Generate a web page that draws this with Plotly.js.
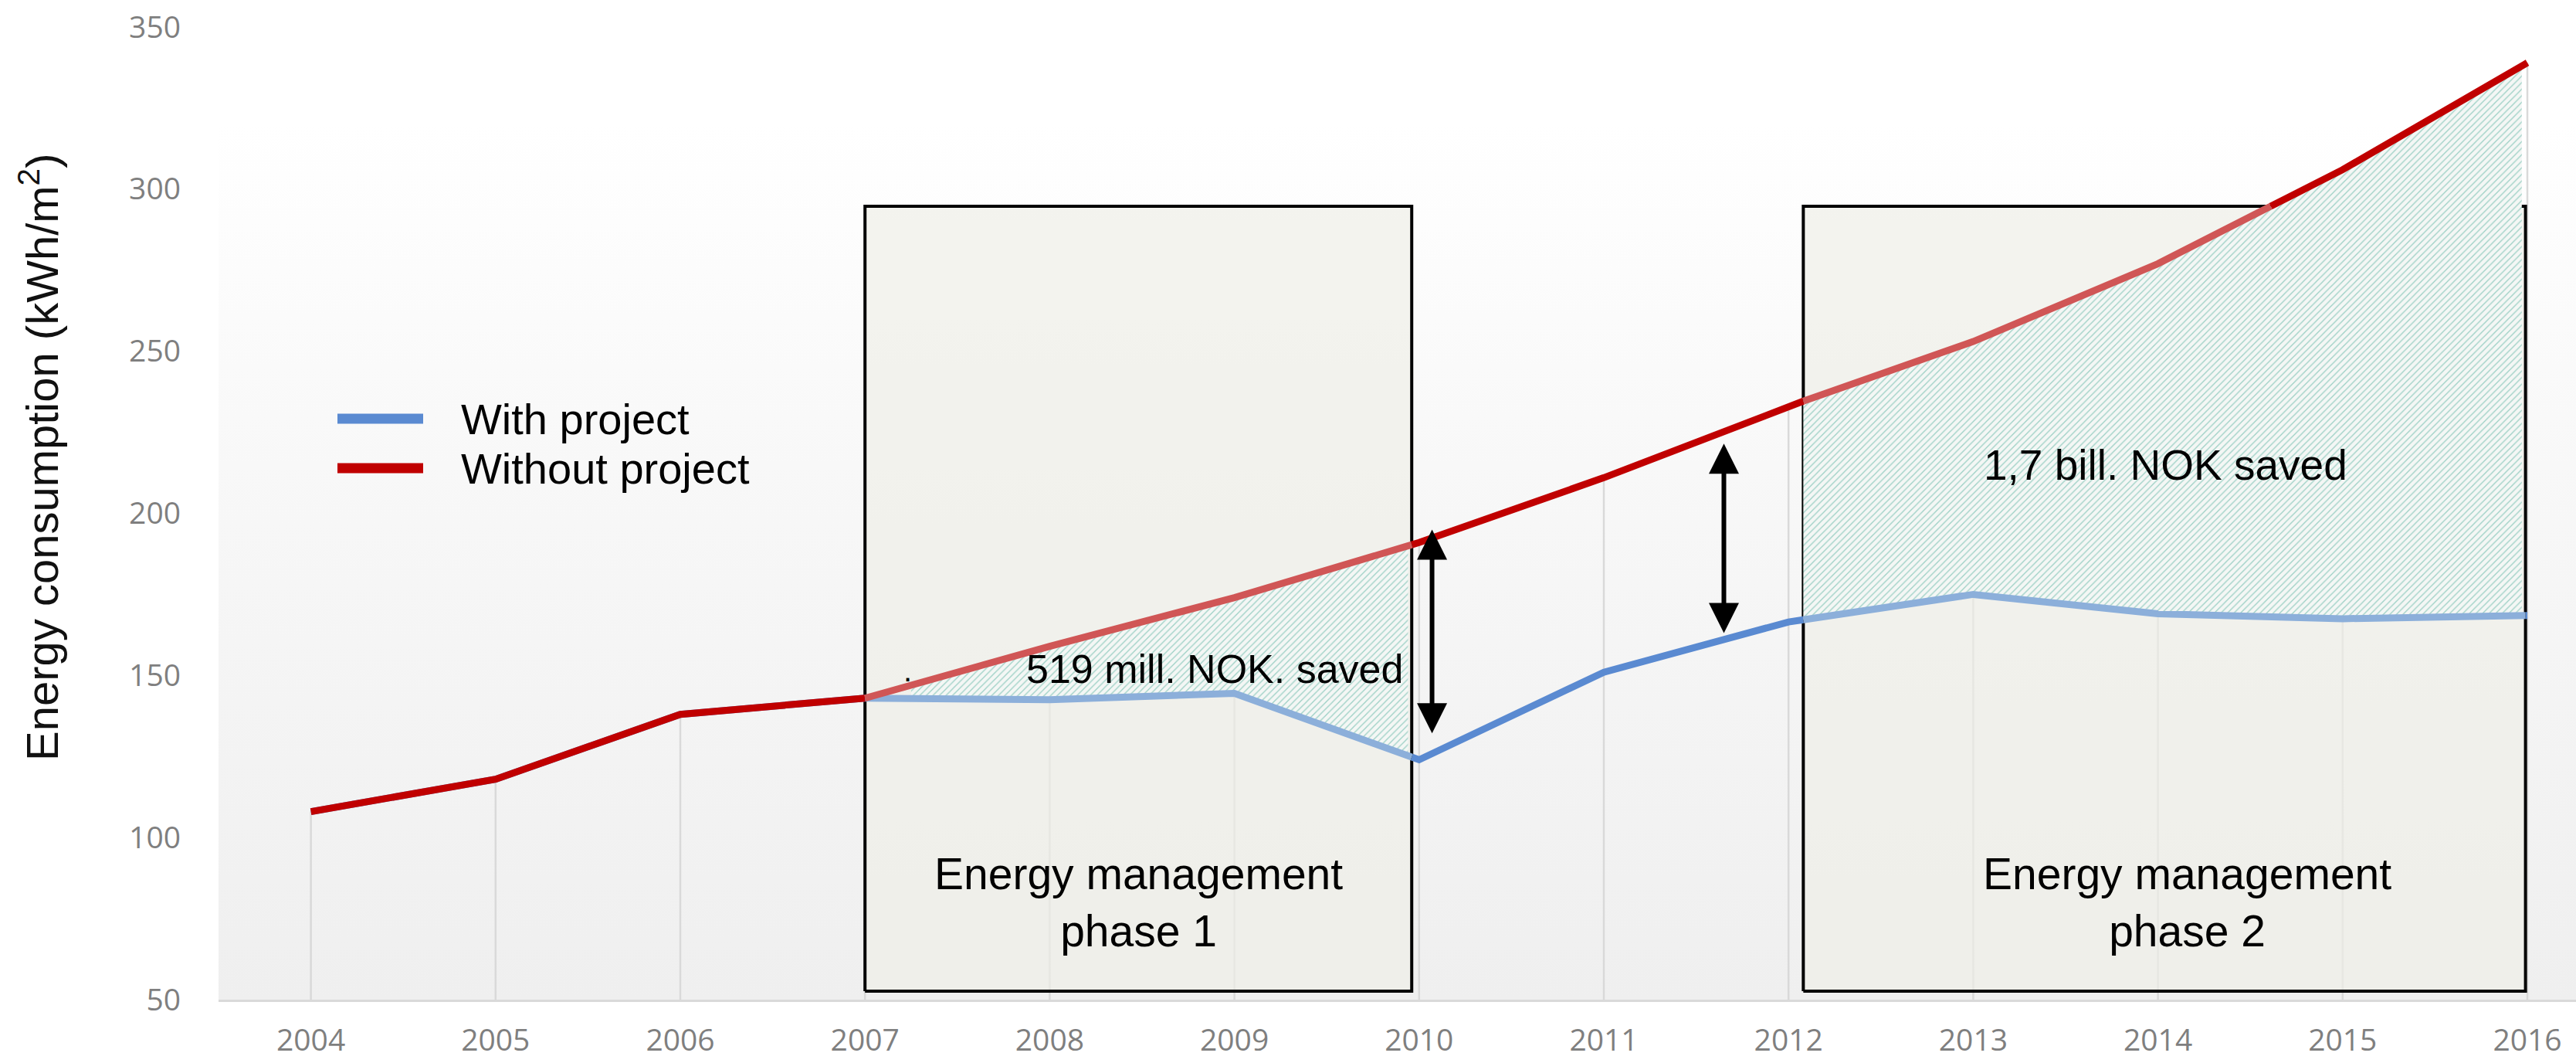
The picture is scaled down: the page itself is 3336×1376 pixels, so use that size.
<!DOCTYPE html>
<html>
<head>
<meta charset="utf-8">
<script src="https://cdn.plot.ly/plotly-3.0.1.min.js"></script>
<style>html,body{margin:0;padding:0;background:#fff}#chart{width:3336px;height:1376px}</style>
</head>
<body>
<div id="chart"></div>
<script>
// ---- data ----
const years = [2004, 2005, 2006, 2007, 2008, 2009, 2010, 2011, 2012, 2013, 2014, 2015, 2016];
const withProject    = [108, 118, 138, 143, 142.5, 144.5, 124, 151, 166.5, 175, 169, 167.5, 168.5];
const withoutProject = [108, 118, 138, 143, 159, 174, 191, 211, 233, 253, 277, 306, 339];
const seriesNames = ['With project', 'Without project'];
const yTicks = [50, 100, 150, 200, 250, 300, 350];
const yTitle = 'Energy consumption (kWh/m<sup>2</sup>)';

const phaseStart  = [2007, 2012.08];
const phaseEnd    = [2009.96, 2015.99];
const phaseBottom = [52.6, 52.6];
const phaseTop    = [294.7, 294.7];
const phaseLabels = ['Energy management<br>phase 1', 'Energy management<br>phase 2'];
const phaseLabelX = [2008.48, 2014.16];
const phaseLabelY = [80, 80];

const savingStart  = [2007.25, 2012.08];
const savingEnd    = [2009.94, 2015.97];
const savingLabels = ['519 mill. NOK. saved', '1,7 bill. NOK saved'];
const savingLabelX = [2009.92, 2014.04];
const savingLabelY = [152, 215];
const savingAnchor = ['right', 'center'];

const gapArrowX      = [2010.07, 2011.65];
const gapArrowTop    = [195, 221.5];
const gapArrowBottom = [131.8, 162.7];

// ---- styles ----
const blueDark = '#5a8ad1', blueFade = '#8cafda';
const redDark = '#c00000', redFade = '#d05656';
const LINE_W = 9;
const W = 3336, H = 1376;
const M = {l: 283, r: 0, t: 35, b: 82};
const PW = W - M.l - M.r, PH = H - M.t - M.b;
const xRange = [2003.5, 2003.5 + PW / 239.2];
const yRange = [50, 350];
const px2x = px => (px - M.l) / PW;
const py2y = py => (H - M.b - py) / PH;

// ---- helpers ----
function interp(xs, ys, x) {
  for (let i = 0; i < xs.length - 1; i++) {
    if (x >= xs[i] && x <= xs[i + 1]) {
      const t = (x - xs[i]) / (xs[i + 1] - xs[i]);
      return ys[i] + t * (ys[i + 1] - ys[i]);
    }
  }
  return x < xs[0] ? ys[0] : ys[ys.length - 1];
}
function inBox(x, y) {
  for (let k = 0; k < phaseStart.length; k++) {
    if (x >= phaseStart[k] && x <= phaseEnd[k] && y >= phaseBottom[k] && y <= phaseTop[k]) return true;
  }
  return false;
}
function splitByBoxes(xs, ys) {
  const inside = {x: [], y: [], lx: null, ly: null};
  const outside = {x: [], y: [], lx: null, ly: null};
  for (let i = 0; i < xs.length - 1; i++) {
    const x0 = xs[i], y0 = ys[i], x1 = xs[i + 1], y1 = ys[i + 1];
    const ts = [0, 1];
    for (let k = 0; k < phaseStart.length; k++) {
      [phaseStart[k], phaseEnd[k]].forEach(ex => {
        if (x1 !== x0) { const t = (ex - x0) / (x1 - x0); if (t > 0 && t < 1) ts.push(t); }
      });
      [phaseBottom[k], phaseTop[k]].forEach(ey => {
        if (y1 !== y0) { const t = (ey - y0) / (y1 - y0); if (t > 0 && t < 1) ts.push(t); }
      });
    }
    ts.sort((a, b) => a - b);
    for (let j = 0; j < ts.length - 1; j++) {
      const ta = ts[j], tb = ts[j + 1];
      if (tb - ta < 1e-9) continue;
      const ax = x0 + ta * (x1 - x0), ay = y0 + ta * (y1 - y0);
      const bx = x0 + tb * (x1 - x0), by = y0 + tb * (y1 - y0);
      const tm = (ta + tb) / 2;
      const tgt = inBox(x0 + tm * (x1 - x0), y0 + tm * (y1 - y0)) ? inside : outside;
      if (!(tgt.lx !== null && Math.abs(tgt.lx - ax) < 1e-9 && Math.abs(tgt.ly - ay) < 1e-9)) {
        if (tgt.x.length) { tgt.x.push(null); tgt.y.push(null); }
        tgt.x.push(ax); tgt.y.push(ay);
      }
      tgt.x.push(bx); tgt.y.push(by);
      tgt.lx = bx; tgt.ly = by;
    }
  }
  return {inside, outside};
}

const traces = [];

// drop lines from the highest series value to the axis
const dropX = [], dropY = [];
years.forEach((yr, i) => {
  dropX.push(yr, yr, null);
  dropY.push(Math.max(withProject[i], withoutProject[i]), yRange[0], null);
});
traces.push({x: dropX, y: dropY, mode: 'lines', line: {color: '#d9d9d9', width: 2.5}, hoverinfo: 'skip'});

// phase boxes
for (let k = 0; k < phaseStart.length; k++) {
  traces.push({
    x: [phaseStart[k], phaseEnd[k], phaseEnd[k], phaseStart[k], phaseStart[k]],
    y: [phaseBottom[k], phaseBottom[k], phaseTop[k], phaseTop[k], phaseBottom[k]],
    mode: 'lines', fill: 'toself', fillcolor: 'rgba(238,238,230,0.65)',
    line: {color: '#000000', width: 4}, hoverinfo: 'skip'
  });
}

// hatched savings areas
for (let k = 0; k < savingStart.length; k++) {
  const hx = [savingStart[k]];
  years.forEach(yr => { if (yr > savingStart[k] && yr < savingEnd[k]) hx.push(yr); });
  hx.push(savingEnd[k]);
  traces.push({x: hx, y: hx.map(x => interp(years, withProject, x)), mode: 'lines',
    line: {width: 0, color: 'rgba(0,0,0,0)'}, hoverinfo: 'skip'});
  traces.push({x: hx, y: hx.map(x => interp(years, withoutProject, x)), mode: 'lines',
    fill: 'tonexty', fillcolor: '#f2f5f3',
    fillpattern: {shape: '/', size: 6, solidity: 0.22, fgcolor: '#9dd0c5', bgcolor: '#f4f7f5'},
    line: {width: 0, color: 'rgba(0,0,0,0)'}, hoverinfo: 'skip'});
}

// series lines (faded where they pass behind the phase boxes)
const bSplit = splitByBoxes(years, withProject);
const rSplit = splitByBoxes(years, withoutProject);
traces.push({x: bSplit.outside.x, y: bSplit.outside.y, mode: 'lines', name: seriesNames[0],
  line: {color: blueDark, width: LINE_W}, connectgaps: false});
traces.push({x: bSplit.inside.x, y: bSplit.inside.y, mode: 'lines', name: seriesNames[0],
  line: {color: blueFade, width: LINE_W}, connectgaps: false});
traces.push({x: rSplit.outside.x, y: rSplit.outside.y, mode: 'lines', name: seriesNames[1],
  line: {color: redDark, width: LINE_W}, connectgaps: false});
traces.push({x: rSplit.inside.x, y: rSplit.inside.y, mode: 'lines', name: seriesNames[1],
  line: {color: redFade, width: LINE_W}, connectgaps: false});

// ---- annotations ----
const ARIAL = 'Liberation Sans, Arial, sans-serif';
const annotations = [];
annotations.push({
  xref: 'paper', yref: 'paper', x: px2x(50), y: py2y(592), text: yTitle, textangle: -90,
  showarrow: false, xanchor: 'center', yanchor: 'middle',
  font: {family: ARIAL, size: 58, color: '#111111'}
});
for (let k = 0; k < phaseLabels.length; k++) {
  annotations.push({xref: 'x', yref: 'y', x: phaseLabelX[k], y: phaseLabelY[k], text: phaseLabels[k],
    showarrow: false, align: 'center', xanchor: 'center', yanchor: 'middle',
    font: {family: ARIAL, size: 57, color: '#000000'}});
}
for (let k = 0; k < savingLabels.length; k++) {
  annotations.push({xref: 'x', yref: 'y', x: savingLabelX[k], y: savingLabelY[k], text: savingLabels[k],
    showarrow: false, xanchor: savingAnchor[k], yanchor: 'middle',
    font: {family: ARIAL, size: k === 0 ? 52 : 55, color: '#000000'}});
}
for (let k = 0; k < gapArrowX.length; k++) {
  annotations.push({xref: 'x', yref: 'y', axref: 'x', ayref: 'y',
    x: gapArrowX[k], y: gapArrowTop[k], ax: gapArrowX[k], ay: gapArrowBottom[k],
    text: '', showarrow: true, arrowside: 'end+start', arrowhead: 2, startarrowhead: 2,
    arrowsize: 1.3, startarrowsize: 1.3, arrowwidth: 6, arrowcolor: '#000000', standoff: 0, startstandoff: 0});
}
annotations.push({xref: 'x', yref: 'y', x: savingStart[0] - 0.02, y: 151.5, text: '.', showarrow: false,
  xanchor: 'center', yanchor: 'middle', font: {family: ARIAL, size: 40, color: '#000000'}});

// legend (drawn manually to match the long line samples)
const legendColors = [blueDark, redDark];
const legendY = [542, 606];
const shapes = [];
for (let k = 0; k < seriesNames.length; k++) {
  shapes.push({type: 'line', xref: 'paper', yref: 'paper', x0: px2x(437), x1: px2x(548),
    y0: py2y(legendY[k]), y1: py2y(legendY[k]), line: {color: legendColors[k], width: 13}});
  annotations.push({xref: 'paper', yref: 'paper', x: px2x(595), y: py2y(legendY[k]), text: seriesNames[k],
    showarrow: false, xanchor: 'left', yanchor: 'middle',
    font: {family: ARIAL, size: 56, color: '#000000'}});
}

// background gradient of the plot area
const gradSvg = '<svg xmlns="http://www.w3.org/2000/svg" width="100" height="100" preserveAspectRatio="none">' +
  '<defs><linearGradient id="g" x1="0" y1="0" x2="0" y2="1">' +
  '<stop offset="0" stop-color="#ffffff"/><stop offset="0.1" stop-color="#ffffff"/>' +
  '<stop offset="0.45" stop-color="#f8f8f8"/><stop offset="1" stop-color="#efefef"/>' +
  '</linearGradient></defs><rect width="100" height="100" fill="url(#g)"/></svg>';

const tickFont = {family: 'Open Sans, sans-serif', size: 39, color: '#7f7f7f'};
const layout = {
  width: W, height: H,
  margin: M,
  paper_bgcolor: '#ffffff',
  plot_bgcolor: 'rgba(0,0,0,0)',
  showlegend: false,
  xaxis: {range: xRange, tickmode: 'array', tickvals: years, ticktext: years.map(String),
    showgrid: false, zeroline: false, showline: true, linecolor: '#d9d9d9', linewidth: 3,
    ticks: '', tickfont: tickFont, ticklabelstandoff: 16, fixedrange: true},
  yaxis: {range: yRange, tickmode: 'array', tickvals: yTicks, ticktext: yTicks.map(String),
    showgrid: false, zeroline: false, showline: false, ticks: '', tickfont: tickFont,
    ticklabelstandoff: 48, fixedrange: true},
  images: [{source: 'data:image/svg+xml;charset=utf-8,' + encodeURIComponent(gradSvg),
    xref: 'paper', yref: 'paper', x: 0, y: 1, sizex: 1, sizey: 1, xanchor: 'left', yanchor: 'top',
    sizing: 'stretch', layer: 'below'}],
  shapes: shapes,
  annotations: annotations
};

Plotly.newPlot('chart', traces, layout, {staticPlot: true, displayModeBar: false});
</script>
</body>
</html>
